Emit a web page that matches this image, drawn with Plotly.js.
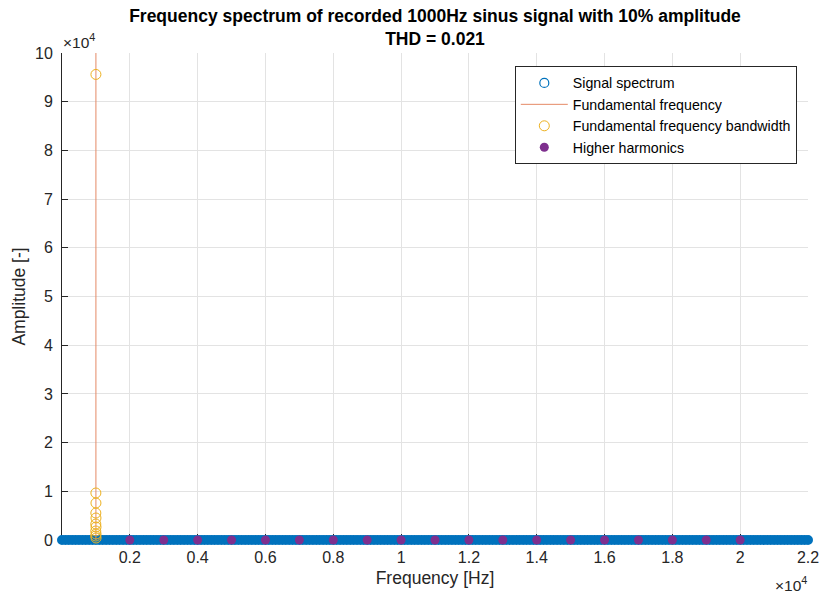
<!DOCTYPE html>
<html>
<head>
<meta charset="utf-8">
<script src="https://cdn.plot.ly/plotly-3.0.1.min.js"></script>
<style>html,body{margin:0;padding:0;background:#fff;}#chart{width:824px;height:596px;}</style>
</head>
<body>
<div id="chart"></div>
<script>
// ---- data ----
const spectrumFreq = [
0,100,200,300,400,500,600,700,800,900,1000,1100,1200,1300,1400,1500,1600,1700,1800,1900,
2000,2100,2200,2300,2400,2500,2600,2700,2800,2900,3000,3100,3200,3300,3400,3500,3600,3700,3800,3900,
4000,4100,4200,4300,4400,4500,4600,4700,4800,4900,5000,5100,5200,5300,5400,5500,5600,5700,5800,5900,
6000,6100,6200,6300,6400,6500,6600,6700,6800,6900,7000,7100,7200,7300,7400,7500,7600,7700,7800,7900,
8000,8100,8200,8300,8400,8500,8600,8700,8800,8900,9000,9100,9200,9300,9400,9500,9600,9700,9800,9900,
10000,10100,10200,10300,10400,10500,10600,10700,10800,10900,11000,11100,11200,11300,11400,11500,11600,11700,11800,11900,
12000,12100,12200,12300,12400,12500,12600,12700,12800,12900,13000,13100,13200,13300,13400,13500,13600,13700,13800,13900,
14000,14100,14200,14300,14400,14500,14600,14700,14800,14900,15000,15100,15200,15300,15400,15500,15600,15700,15800,15900,
16000,16100,16200,16300,16400,16500,16600,16700,16800,16900,17000,17100,17200,17300,17400,17500,17600,17700,17800,17900,
18000,18100,18200,18300,18400,18500,18600,18700,18800,18900,19000,19100,19200,19300,19400,19500,19600,19700,19800,19900,
20000,20100,20200,20300,20400,20500,20600,20700,20800,20900,21000,21100,21200,21300,21400,21500,21600,21700,21800,21900,
22000];
const spectrumAmp = [
0,0,0,0,0,0,0,0,0,0,0,0,0,0,0,0,0,0,0,0,
0,0,0,0,0,0,0,0,0,0,0,0,0,0,0,0,0,0,0,0,
0,0,0,0,0,0,0,0,0,0,0,0,0,0,0,0,0,0,0,0,
0,0,0,0,0,0,0,0,0,0,0,0,0,0,0,0,0,0,0,0,
0,0,0,0,0,0,0,0,0,0,0,0,0,0,0,0,0,0,0,0,
0,0,0,0,0,0,0,0,0,0,0,0,0,0,0,0,0,0,0,0,
0,0,0,0,0,0,0,0,0,0,0,0,0,0,0,0,0,0,0,0,
0,0,0,0,0,0,0,0,0,0,0,0,0,0,0,0,0,0,0,0,
0,0,0,0,0,0,0,0,0,0,0,0,0,0,0,0,0,0,0,0,
0,0,0,0,0,0,0,0,0,0,0,0,0,0,0,0,0,0,0,0,
0,0,0,0,0,0,0,0,0,0,0,0,0,0,0,0,0,0,0,0,
0];
const fundamentalFreq = [1000, 1000];
const fundamentalLine = [0, 100000];
const bandFreq = [1000, 999, 1001, 998, 1002, 997, 1003, 996, 1004, 995, 1005];
const bandAmp = [95600, 9650, 7590, 5540, 4520, 3280, 2670, 1850, 1230, 820, 410];
const harmFreq = [2000,3000,4000,5000,6000,7000,8000,9000,10000,11000,12000,13000,14000,15000,16000,17000,18000,19000,20000];
const harmAmp = [0,0,0,0,0,0,0,0,0,0,0,0,0,0,0,0,0,0,0];
const xTickVals = [2000,4000,6000,8000,10000,12000,14000,16000,18000,20000,22000];
const xTickText = ['0.2','0.4','0.6','0.8','1','1.2','1.4','1.6','1.8','2','2.2'];
const yTickVals = [0,10000,20000,30000,40000,50000,60000,70000,80000,90000,100000];
const yTickText = ['0','1','2','3','4','5','6','7','8','9','10'];

// ---- styles ----
const BLUE = '#0072BD', ORANGE = '#E58A66', YELLOW = '#EDB120', PURPLE = '#7E2F8E';
const FONT = 'Liberation Sans, Arial, Helvetica, sans-serif';
const TXT = '#262626';

const traces = [
  { // legend proxy for the spectrum
    x: [null], y: [null], type: 'scatter', mode: 'markers', name: 'Signal spectrum',
    marker: {symbol: 'circle-open', size: 9, color: BLUE, line: {width: 1.2}}
  },
  {
    x: spectrumFreq, y: spectrumAmp, type: 'scatter', mode: 'markers', name: 'Signal spectrum',
    showlegend: false, cliponaxis: false,
    marker: {symbol: 'circle-open', size: 6, color: BLUE, line: {width: 4}}
  },
  {
    x: fundamentalFreq, y: fundamentalLine, type: 'scatter', mode: 'lines', name: 'Fundamental frequency',
    line: {color: ORANGE, width: 1}
  },
  {
    x: bandFreq, y: bandAmp, type: 'scatter', mode: 'markers', name: 'Fundamental frequency bandwidth',
    cliponaxis: false,
    marker: {symbol: 'circle-open', size: 10, color: YELLOW, line: {width: 1}}
  },
  {
    x: harmFreq, y: harmAmp, type: 'scatter', mode: 'markers', name: 'Higher harmonics',
    cliponaxis: false,
    marker: {symbol: 'circle', size: 9, color: PURPLE, line: {width: 0}}
  }
];

const layout = {
  width: 824, height: 596,
  margin: {l: 62, r: 16, t: 53, b: 56, pad: 0},
  paper_bgcolor: '#fff', plot_bgcolor: '#fff',
  font: {family: FONT, color: TXT, size: 15},
  title: {
    text: '<b>Frequency spectrum of recorded 1000Hz sinus signal with 10% amplitude<br>THD = 0.021</b>',
    font: {family: FONT, size: 17.5, color: '#000'},
    x: 0.5, xref: 'paper', xanchor: 'center', y: 0.963, yref: 'container', yanchor: 'top'
  },
  xaxis: {
    range: [0, 22000], tickmode: 'array', tickvals: xTickVals, ticktext: xTickText,
    showgrid: true, gridcolor: '#E3E3E3', gridwidth: 1, zeroline: false,
    showline: true, linecolor: TXT, linewidth: 1, mirror: false, layer: 'below traces',
    ticks: 'inside', ticklen: 6, tickcolor: TXT, tickfont: {size: 16, color: TXT},
    ticklabelstandoff: 3,
    title: {text: 'Frequency [Hz]', font: {size: 17.5, color: TXT}, standoff: 6}
  },
  yaxis: {
    range: [0, 100000], tickmode: 'array', tickvals: yTickVals, ticktext: yTickText,
    showgrid: true, gridcolor: '#E3E3E3', gridwidth: 1, zeroline: false,
    showline: true, linecolor: TXT, linewidth: 1, mirror: false, layer: 'below traces',
    ticks: 'inside', ticklen: 6, tickcolor: TXT, tickfont: {size: 16, color: TXT},
    ticklabelstandoff: 5,
    title: {text: 'Amplitude [-]', font: {size: 17.5, color: TXT}, standoff: 4}
  },
  legend: {
    x: 0.985, xanchor: 'right', y: 0.973, yanchor: 'top',
    bgcolor: '#fff', bordercolor: TXT, borderwidth: 1,
    font: {size: 14.2, color: '#000'}, itemwidth: 47, tracegroupgap: 0
  },
  annotations: [
    {text: '×10<sup>4</sup>', xref: 'paper', yref: 'paper', x: 0, y: 1, xanchor: 'left', yanchor: 'bottom',
     showarrow: false, font: {size: 15.5, color: TXT}, xshift: -1, yshift: 0},
    {text: '×10<sup>4</sup>', xref: 'paper', yref: 'paper', x: 1, y: 0, xanchor: 'right', yanchor: 'top',
     showarrow: false, font: {size: 15.5, color: TXT}, xshift: 1, yshift: -32}
  ],
  showlegend: true
};

Plotly.newPlot('chart', traces, layout, {displayModeBar: false, responsive: false});
</script>
</body>
</html>
